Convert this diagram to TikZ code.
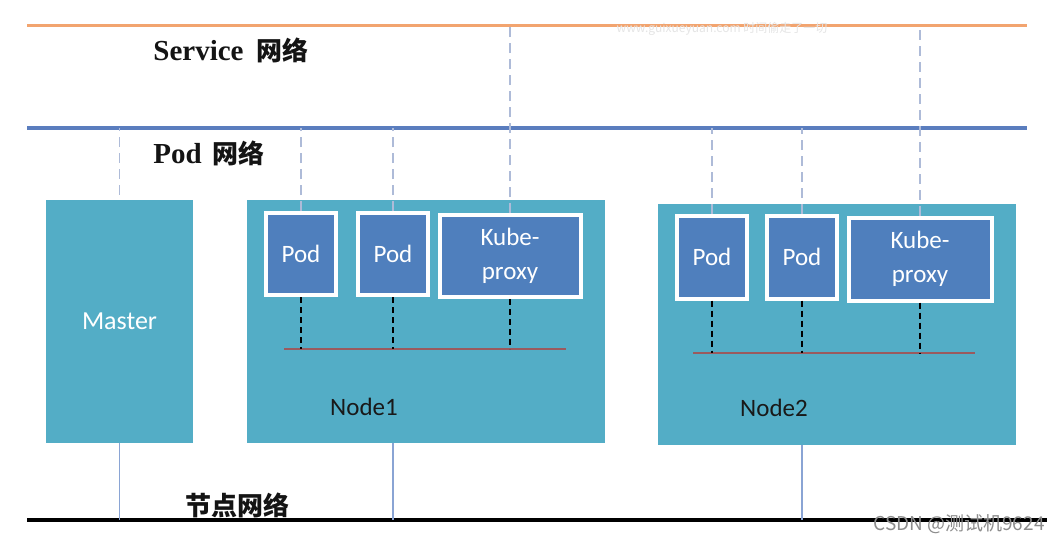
\documentclass[tikz,border=0pt]{standalone}
\usepackage{fontspec}
\setmainfont{Liberation Serif}
\newfontfamily\cjk{Noto Sans CJK SC}
\newfontfamily\calibri{Carlito}
\usetikzlibrary{positioning}
\definecolor{hostblue}{HTML}{53ADC6}
\definecolor{podblue}{HTML}{4F7FBD}
\definecolor{svcorange}{HTML}{F2A46F}
\definecolor{podline}{HTML}{5A7DBE}
\definecolor{busred}{HTML}{9A5A5E}
\definecolor{linkgray}{HTML}{AEBBD8}
\definecolor{linkblue}{HTML}{8AA4D4}
\tikzset{
	%box styles, reused for the three hosts and the six pods
	host/.style = {rectangle, fill=hostblue, inner sep=0pt,
                           font=\calibri\fontsize{13}{16}\selectfont},
	pod/.style = {rectangle, fill=podblue, draw=white, line width=2pt,
                           inner sep=0pt, text=white, align=center,
                           minimum width=35pt, minimum height=41pt,
                           font=\calibri\fontsize{12.5}{17}\selectfont},
	net/.style = {anchor=west, inner sep=0pt, text=black!92,
                           font=\bfseries\fontsize{14.5}{16}\selectfont},
	podlink/.style = {black, line width=0.9pt, dash pattern=on 3pt off 2pt},
	netlink/.style = {linkgray, line width=0.6pt, dash pattern=on 5pt off 3pt},
	hostlink/.style = {linkblue, line width=0.6pt}
}
\begin{document}
\begin{tikzpicture}[x=0.5pt, y=-0.5pt]
    	\useasboundingbox[fill=white] (0,0) rectangle (1060,543);
    	%networks
    	\coordinate (svcW)  at (27, 25);
    	\coordinate (svcE)  at (1027, 25);
    	\coordinate (podW)  at (27, 128);
    	\coordinate (podE)  at (1027, 128);
    	\coordinate (nodeW) at (27, 520);
    	\coordinate (nodeE) at (1047, 520);
    	\draw[svcorange, line width=1.5pt] (svcW) -- (svcE);
    	\draw[podline, line width=2pt]     (podW) -- (podE);
    	\draw[black, line width=2pt]       (nodeW) -- (nodeE);
    	\node[net] (svc) at (153, 50)  {Service\hspace{3pt} {\cjk\fontsize{13}{14}\selectfont 网络}};
    	\node[net] (pn)  at (153, 153) {Pod\hspace{2pt} {\cjk\fontsize{13}{14}\selectfont 网络}};
    	\node[inner sep=0pt, text=black!92, font=\cjk\bfseries\fontsize{13}{14}\selectfont]
    	       (nn) at (237, 505) {节点网络};
    	%hosts
    	\node[host, minimum width=73.5pt, minimum height=121.5pt, text=white] (master) at (119.5, 321.5) {Master};
    	\node[host, minimum width=179pt,  minimum height=121.5pt] (n1) at (426, 321.5) {};
    	\node[host, minimum width=179pt,  minimum height=120.5pt] (n2) at (837, 324.5) {};
    	\node[text=black!90, font=\calibri\fontsize{12.5}{14}\selectfont] (l1) at (364, 407) {Node1};
    	\node[text=black!90, font=\calibri\fontsize{12.5}{14}\selectfont] (l2) at (774, 408) {Node2};
    	%pods
    	\node[pod] (p11) at (301, 254)   {Pod};
    	\node[pod] (p12) at (393, 254)   {Pod};
    	\node[pod, minimum width=70.5pt] (k1) at (510, 256)   {Kube-\\proxy};
    	\node[pod, minimum height=41.5pt] (p21) at (712, 257) {Pod};
    	\node[pod, minimum height=41.5pt] (p22) at (802, 257) {Pod};
    	\node[pod, minimum width=71.5pt, minimum height=41.5pt] (k2) at (920, 259) {Kube-\\proxy};
    	%buses
    	\coordinate (bus1W) at (284, 349);
    	\coordinate (bus1E) at (566, 349);
    	\coordinate (bus2W) at (693, 353);
    	\coordinate (bus2E) at (975, 353);
    	\draw[busred, line width=1pt] (bus1W) -- (bus1E);
    	\draw[busred, line width=1pt] (bus2W) -- (bus2E);
    	%links
    	\draw[podlink] (p11) -- (p11 |- bus1W)
    	               (p12) -- (p12 |- bus1W)
    	               (k1)  -- (k1 |- bus1W)
    	               (p21) -- (p21 |- bus2W)
    	               (p22) -- (p22 |- bus2W)
    	               (k2)  -- (k2 |- bus2W);
    	\draw[netlink] (master.north) ++(0,-5) -- (master.north |- podW)
    	               (p11.north) -- (p11.north |- podW)
    	               (p12.north) -- (p12.north |- podW)
    	               (p21.north) -- (p21.north |- podW)
    	               (p22.north) -- (p22.north |- podW)
    	               (k1.north)  -- (k1.north |- svcW)
    	               (k2.north)  -- (k2.north |- svcW);
    	\draw[hostlink] (master.south) -- (master.south |- nodeW)
    	                (p12 |- n1.south) -- (p12 |- nodeW)
    	                (p22 |- n2.south) -- (p22 |- nodeW);
    	%watermarks
    	\node[text=black!10, font=\cjk\fontsize{6}{7}\selectfont] (wm1) at (722, 29) {www.guixueyuan.com 时间偷走了一切};
    	\node[text=black!45, font=\cjk\fontsize{9.5}{11}\selectfont] (wm2) at (959, 524) {CSDN @测试机9624};
\end{tikzpicture}
\end{document}
